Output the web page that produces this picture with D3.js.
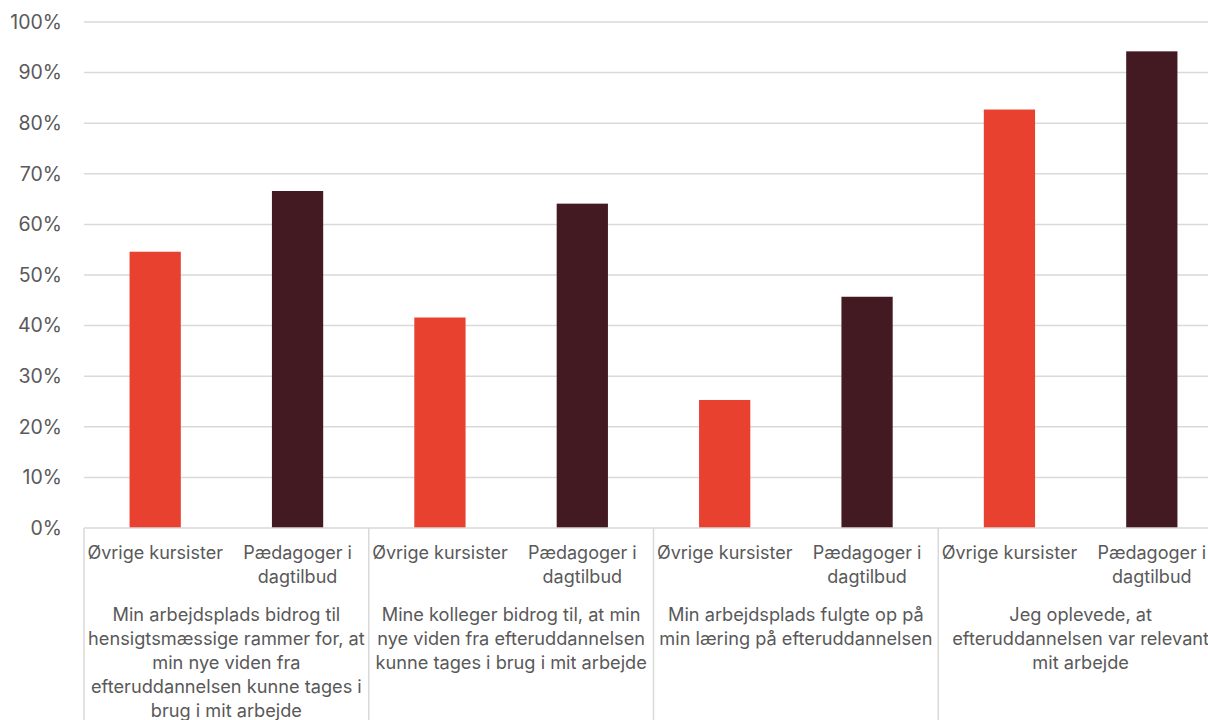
<!DOCTYPE html>
<html><head><meta charset="utf-8">
<script src="https://cdn.jsdelivr.net/npm/d3@7"></script>
<style>body{margin:0;background:#fff;overflow:hidden}svg{display:block}text{font-family:Inter,"Open Sans",sans-serif;fill:#595959}</style>
</head><body><svg id="c" width="1208" height="720"></svg>
<script>
const groups = [
  "Min arbejdsplads bidrog til\nhensigtsmæssige rammer for, at\nmin nye viden fra\nefteruddannelsen kunne tages i\nbrug i mit arbejde",
  "Mine kolleger bidrog til, at min\nnye viden fra efteruddannelsen\nkunne tages i brug i mit arbejde",
  "Min arbejdsplads fulgte op på\nmin læring på efteruddannelsen",
  "Jeg oplevede, at\nefteruddannelsen var relevant\nmit arbejde"
];
const series = ["Øvrige kursister", "Pædagoger i\ndagtilbud"];
const ovrige = [0.546, 0.416, 0.253, 0.827];
const paedagoger = [0.666, 0.641, 0.457, 0.942];
const ticks = [0,0.1,0.2,0.3,0.4,0.5,0.6,0.7,0.8,0.9,1.0];
const colors = ["#E84130", "#431A22"];

const svg = d3.select("#c");
const L = 84, R = 1223, T = 22, B = 528;
const y = d3.scaleLinear().domain([0,1]).range([B,T]);
const xg = d3.scaleBand().domain(d3.range(groups.length)).range([L,R]);
const xs = d3.scaleBand().domain(d3.range(series.length)).range([0,xg.bandwidth()]).paddingInner(0.64).paddingOuter(0.32);

// gridlines
svg.append("g").selectAll("line").data(ticks.filter(t=>t>0)).join("line")
  .attr("x1",L).attr("x2",R).attr("y1",d=>y(d)).attr("y2",d=>y(d))
  .attr("stroke","#d9d9d9").attr("stroke-width",1.5);

// y labels
const yAxis = d3.axisLeft(y).tickValues(ticks).tickFormat(d3.format(".0%")).tickSize(0).tickPadding(22);
const ya = svg.append("g").attr("transform",`translate(${L},0)`).call(yAxis);
ya.select(".domain").remove();
ya.selectAll("text").style("font-size","19.5px").attr("fill","#595959").style("font-family","Inter,'Open Sans',sans-serif");

// bars
const data = [];
groups.forEach((g,i)=>{ [ovrige[i],paedagoger[i]].forEach((v,j)=>data.push({g:i,s:j,v})); });
svg.append("g").selectAll("rect").data(data).join("rect")
  .attr("x",d=>xg(d.g)+xs(d.s)).attr("width",xs.bandwidth())
  .attr("y",d=>y(d.v)).attr("height",d=>B-y(d.v))
  .attr("fill",d=>colors[d.s]);

// axis line and separators
svg.append("line").attr("x1",L).attr("x2",R).attr("y1",B).attr("y2",B).attr("stroke","#d9d9d9").attr("stroke-width",1.5);
svg.append("g").selectAll("line").data(d3.range(groups.length+1)).join("line")
  .attr("x1",d=>d<groups.length?xg(d):R).attr("x2",d=>d<groups.length?xg(d):R)
  .attr("y1",B).attr("y2",720).attr("stroke","#d9d9d9").attr("stroke-width",1.5);

// category labels
const lh = 24;
const cat = svg.append("g");
groups.forEach((g,i)=>{
  series.forEach((s,j)=>{
    const t = cat.append("text").attr("text-anchor","middle").style("font-size","18px");
    s.split("\n").forEach((ln,k)=>t.append("tspan").attr("x",xg(i)+xg.bandwidth()/series.length*(j+0.5)).attr("y",559+k*lh).text(ln));
  });
  const t = cat.append("text").attr("text-anchor","middle").style("font-size","18.2px");
  g.split("\n").forEach((ln,k)=>t.append("tspan").attr("x",xg(i)+xg.bandwidth()/2).attr("y",621+k*lh).text(ln));
});
</script></body></html>
